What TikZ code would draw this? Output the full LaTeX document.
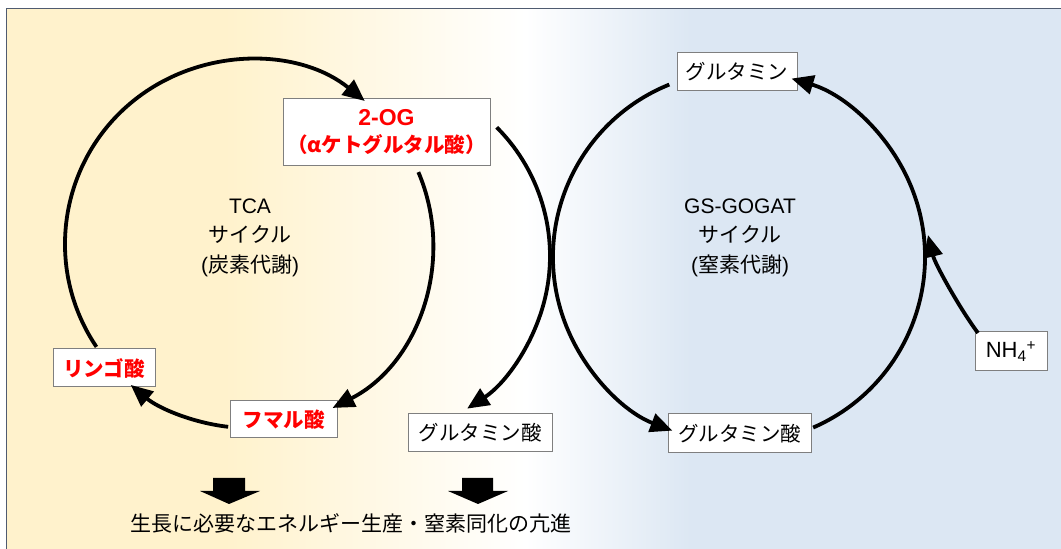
\documentclass[tikz,border=0pt]{standalone}
\usepackage{fontspec}
\setmainfont{Liberation Sans}
\newfontfamily\jp{Noto Sans CJK JP}
\usetikzlibrary{arrows.meta,calc}
\definecolor{bgyel}{HTML}{FFF2CC}
\definecolor{bgblu}{HTML}{DCE7F3}
\definecolor{framec}{HTML}{4F5B70}
\definecolor{boxln}{HTML}{7F7F7F}
\begin{document}
\begin{tikzpicture}[x=1pt,y=1pt,
  lbl/.style={draw=boxln, line width=1pt, fill=white, inner sep=0pt, align=center,
    font=\jp\fontsize{20.5}{27}\selectfont},
  redlbl/.style={lbl, text=red, font=\jp\bfseries\fontsize{20.5}{27}\selectfont},
  cyc/.style={line width=3.8pt, -{Triangle[length=22pt,width=19pt]}},
  cyclabel/.style={align=center, font=\fontsize{21}{29.5}\selectfont},
  blockarrow/.style={fill=black}]
\useasboundingbox (0,0) rectangle (1061,549);
% background
\fill[white] (0,0) rectangle (1061,549);
\fill[bgyel] (7,0) rectangle (225.5,540);
\shade[left color=bgyel, right color=white] (225,0) rectangle (525.5,540);
\shade[left color=white, right color=bgblu] (525,0) rectangle (690.5,540);
\fill[bgblu] (690,0) rectangle (1061,540);
\draw[framec, line width=1.5pt] (6.5,0) -- (6.5,540.5) -- (1061,540.5);

% boxes
\node[redlbl, minimum width=207pt, minimum height=67pt] (og) at (386.5,416.5)
  {{\normalfont\bfseries\fontsize{23}{27}\selectfont 2-OG}\\（αケトグルタル酸）};
\node[redlbl, minimum width=102pt, minimum height=38pt] (ringo) at (104,181) {リンゴ酸};
\node[redlbl, minimum width=107pt, minimum height=37pt] (fumaru) at (283.5,129.5) {フマル酸};
\node[lbl, minimum width=144pt, minimum height=38pt] (gluL) at (480,116) {グルタミン酸};
\node[lbl, minimum width=143pt, minimum height=39pt] (gluR) at (739.5,115.5) {グルタミン酸};
\node[lbl, minimum width=120pt, minimum height=38pt] (gln) at (737,477) {グルタミン};
\node[lbl, minimum width=72pt, minimum height=39pt, font=\fontsize{22}{26}\selectfont] (nh4) at (1011,197.5)
  {NH\textsubscript{4}\textsuperscript{+}};

% cycle labels
\node[cyclabel] (tcatext) at (250,311.5) {TCA\\{\jp サイクル}\\({\jp 炭素代謝})};
\node[cyclabel] (gstext) at (740,311.5) {GS-GOGAT\\{\jp サイクル}\\({\jp 窒素代謝})};

% circle centres and arc starts
\coordinate (tca) at (249,305);
\coordinate (gs) at (739,292);
\coordinate (ex) at (368,293);
\coordinate (a1) at ($(tca)+(214:184)$);
\coordinate (a2) at ($(tca)+(23:184)$);
\coordinate (a3) at ($(tca)+(-96.5:184)$);
\coordinate (e1) at ($(ex)+(45:182)$);
\coordinate (b1) at ($(gs)+(112:186)$);
\coordinate (b2) at ($(gs)+(-66.5:186)$);
\coordinate (nhs) at (978,216);
\coordinate (nhe) at (928,314);

% arcs
\draw[cyc] (a1) arc[start angle=214, end angle=51, radius=184];
\draw[cyc] (a2) arc[start angle=23, end angle=-63, radius=184];
\draw[cyc] (a3) arc[start angle=-96.5, end angle=-130, radius=184];
\draw[cyc] (e1) arc[start angle=45, end angle=-57, radius=182];
\draw[cyc] (b1) arc[start angle=112, end angle=249, radius=186];
\draw[cyc] (b2) arc[start angle=-66.5, end angle=73.6, radius=186];
\draw[cyc] (nhs) .. controls (960,240) and (935,285) .. (nhe);

% block arrows
\fill[blockarrow] (213,71) -- (245,71) -- (245,58) -- (260,58) -- (229,45) -- (200,58) -- (213,58) -- cycle;
\fill[blockarrow] (462,71) -- (493,71) -- (493,58) -- (508,58) -- (478,45) -- (448,58) -- (462,58) -- cycle;

\node[font=\jp\fontsize{21}{25}\selectfont] (result) at (351,26) {生長に必要なエネルギー生産・窒素同化の亢進};
\end{tikzpicture}
\end{document}
